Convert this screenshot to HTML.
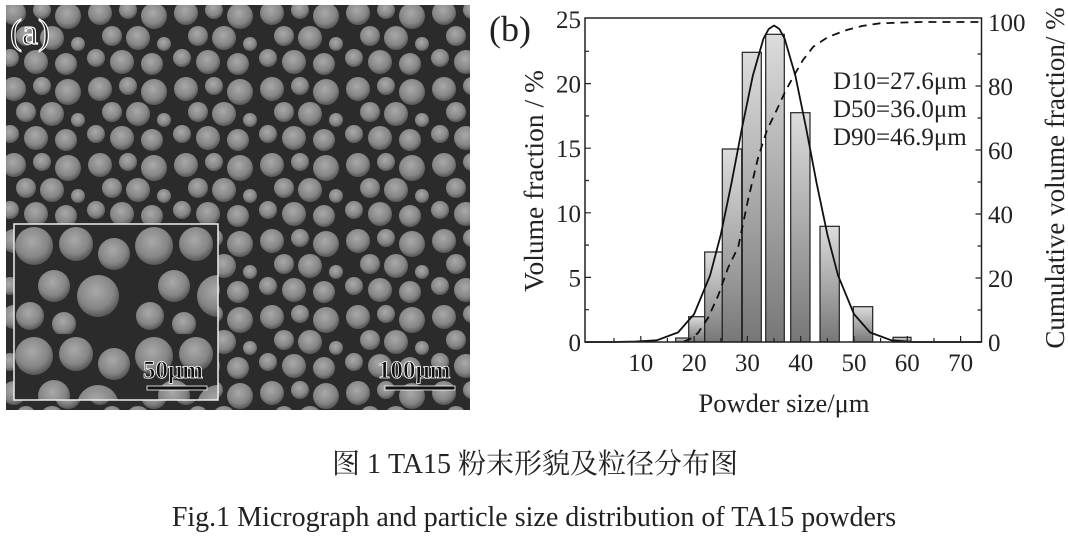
<!DOCTYPE html>
<html><head><meta charset="utf-8"><style>
body{margin:0;background:#fff;}
svg{display:block;font-family:"Liberation Serif","Noto Serif CJK SC",serif;}
</style></head><body>
<svg width="1068" height="539" viewBox="0 0 1068 539">
<defs>
<radialGradient id="sp" cx="45%" cy="38%" r="60%">
<stop offset="0" stop-color="#a9a9a9"/><stop offset="0.7" stop-color="#858585"/><stop offset="1" stop-color="#5a5a5a"/>
</radialGradient>
<pattern id="pt" width="86" height="76" patternUnits="userSpaceOnUse">
<rect width="86" height="76" fill="#2b2b2b"/>
<circle cx="14" cy="13" r="12" fill="url(#sp)"/>
<circle cx="42" cy="10" r="9" fill="url(#sp)"/>
<circle cx="68" cy="16" r="13" fill="url(#sp)"/>
<circle cx="26" cy="36" r="10" fill="url(#sp)"/>
<circle cx="52" cy="38" r="12" fill="url(#sp)"/>
<circle cx="78" cy="44" r="7" fill="url(#sp)"/>
<circle cx="10" cy="58" r="9" fill="url(#sp)"/>
<circle cx="36" cy="62" r="12" fill="url(#sp)"/>
<circle cx="66" cy="64" r="11" fill="url(#sp)"/>
</pattern>
<pattern id="pt2" width="120" height="110" patternUnits="userSpaceOnUse" x="14" y="224">
<rect width="120" height="110" fill="#2b2b2b"/>
<circle cx="20" cy="22" r="19" fill="url(#sp)"/>
<circle cx="62" cy="20" r="17" fill="url(#sp)"/>
<circle cx="100" cy="30" r="16" fill="url(#sp)"/>
<circle cx="40" cy="62" r="16" fill="url(#sp)"/>
<circle cx="84" cy="72" r="21" fill="url(#sp)"/>
<circle cx="16" cy="92" r="14" fill="url(#sp)"/>
<circle cx="50" cy="100" r="12" fill="url(#sp)"/>
</pattern>
<linearGradient id="bg" x1="0" y1="0" x2="0" y2="1">
<stop offset="0" stop-color="#dcdcdc"/><stop offset="1" stop-color="#777"/>
</linearGradient>
</defs>
<rect x="6" y="5" width="464" height="405" fill="url(#pt)"/>
<rect x="14" y="224" width="204" height="176" fill="url(#pt2)" stroke="#eee" stroke-width="1.5"/>
<text x="10" y="44" font-size="36" fill="#222" stroke="#fff" stroke-width="1.2">(a)</text>
<text x="143" y="378" font-size="25" font-weight="bold" fill="#111" stroke="#fff" stroke-width="0.8">50μm</text>
<rect x="147" y="386" width="60" height="4" fill="#111" stroke="#fff" stroke-width="0.8"/>
<text x="378" y="378" font-size="25" font-weight="bold" fill="#111" stroke="#fff" stroke-width="0.8">100μm</text>
<rect x="385" y="386" width="70" height="4" fill="#111" stroke="#fff" stroke-width="0.8"/>
<text x="489" y="41" font-size="36" fill="#222">(b)</text>
<g fill="url(#bg)" stroke="#222" stroke-width="1.2">
<rect x="675.7" y="338" width="13" height="4"/>
<rect x="688.7" y="316.7" width="16" height="25.3"/>
<rect x="704.7" y="252" width="17.6" height="90"/>
<rect x="722.3" y="149" width="19.4" height="193"/>
<rect x="742.3" y="52.3" width="19" height="289.7"/>
<rect x="765.7" y="34.3" width="18.6" height="307.7"/>
<rect x="790.7" y="112.7" width="19.3" height="229.3"/>
<rect x="820" y="226.3" width="19.3" height="115.7"/>
<rect x="853.3" y="306.7" width="19.4" height="35.3"/>
<rect x="893" y="337.3" width="18" height="4.7"/>
</g>
<polyline fill="none" stroke="#111" stroke-width="1.8" stroke-linejoin="round" points="585,342 614,342 635.5,341.5 656.8,340.3 678.1,332.4 694.1,314.1 710.1,275.3 720.8,234.6 731.4,183.6 742.1,127.5 752.8,75.8 763.4,38.8 768.7,29 774.05,25.5 779.4,29 784.7,38.8 795.4,75.8 806,127.5 816.7,183.6 827.4,234.6 838,275.3 854,314.1 870,332.4 891.4,340.3 912.8,342 981,342"/>
<polyline fill="none" stroke="#111" stroke-width="1.8" stroke-dasharray="8,6" points="684,341.5 690,339 698,333 708,318 718,296 728,268 738.3,246.7 748,200 758,158 767,130 776.7,110 785,92 793.3,76.7 803,60 813.3,46.7 828,37 846.7,30 862,26 880,23.3 920,22 981,22"/>
<rect x="585" y="18" width="396.5" height="324" fill="none" stroke="#222" stroke-width="1.5"/>
<g stroke="#222" stroke-width="1.2">
<path d="M585 342h6M585 309.7h4M585 277.4h6M585 245.1h4M585 212.8h6M585 180.5h4M585 148.2h6M585 115.9h4M585 83.6h6M585 51.3h4"/>
<path d="M981.5 342h-6M981.5 310h-4M981.5 278h-6M981.5 246h-4M981.5 214h-6M981.5 182h-4M981.5 150h-6M981.5 118h-4M981.5 86h-6M981.5 54h-4"/>
<path d="M614 342v-4M640.8 342v-6M667.4 342v-4M694.1 342v-6M720.8 342v-4M747.4 342v-6M774 342v-4M800.7 342v-6M827.4 342v-4M854 342v-6M880.6 342v-4M907.3 342v-6M934 342v-4M960.6 342v-6"/>
</g>
<g font-size="25" fill="#222" text-anchor="end">
<text x="581" y="351">0</text><text x="581" y="286.4">5</text><text x="581" y="221.8">10</text><text x="581" y="157.2">15</text><text x="581" y="92.6">20</text><text x="581" y="28">25</text>
</g>
<g font-size="25" fill="#222">
<text x="988" y="351">0</text><text x="988" y="287">20</text><text x="988" y="223">40</text><text x="988" y="159">60</text><text x="988" y="95">80</text><text x="988" y="31">100</text>
</g>
<g font-size="25" fill="#222" text-anchor="middle">
<text x="640.8" y="371">10</text><text x="694.1" y="371">20</text><text x="747.4" y="371">30</text><text x="800.7" y="371">40</text><text x="854" y="371">50</text><text x="907.3" y="371">60</text><text x="960.6" y="371">70</text>
</g>
<text x="784" y="412" font-size="26.5" fill="#222" text-anchor="middle">Powder size/μm</text>
<text transform="translate(543,181) rotate(-90)" font-size="27.5" fill="#222" text-anchor="middle">Volume fraction / %</text>
<text transform="translate(1064,178) rotate(-90)" font-size="27" fill="#222" text-anchor="middle">Cumulative volume fraction/ %</text>
<g font-size="25" fill="#222">
<text x="833" y="89">D10=27.6μm</text><text x="833" y="117">D50=36.0μm</text><text x="833" y="145">D90=46.9μm</text>
</g>
<text x="535" y="473" font-size="28" fill="#222" text-anchor="middle">图 1 TA15 粉末形貌及粒径分布图</text>
<text x="534" y="526" font-size="28" fill="#222" text-anchor="middle">Fig.1 Micrograph and particle size distribution of TA15 powders</text>
</svg>
</body></html>
